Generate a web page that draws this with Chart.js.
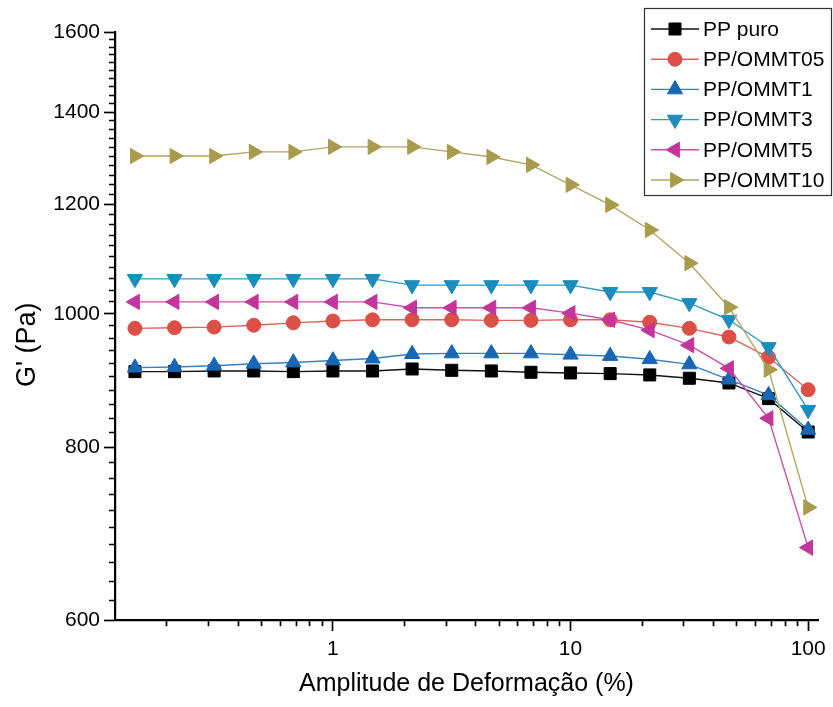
<!DOCTYPE html>
<html><head><meta charset="utf-8">
<script src="https://cdn.jsdelivr.net/npm/chart.js@4.4.1/dist/chart.umd.min.js"></script>
<style>html,body{margin:0;padding:0;background:#fff}#wrap{width:833px;height:707px;position:relative}</style>
</head><body><div id="wrap"><canvas id="c" width="833" height="707"></canvas></div>
<script>
// ---- data ----
const strain = [0.1468,0.2154,0.3162,0.4642,0.6813,1,1.468,2.154,3.162,4.642,6.813,10,14.68,21.54,31.62,46.42,68.13,100];
const ppPuro   = [908,908,909,909,908,909,909,912,910,909,907,906,905,903,898,891,868,821];
const ommt05   = [976,977,978,981,985,988,990,990,990,989,989,990,990,986,976,962,930,881];
const ommt1    = [914,915,917,920,922,925,928,935,936,936,936,934,932,927,919,896,873,824];
const ommt3    = [1060,1060,1060,1060,1060,1060,1060,1049,1049,1049,1049,1049,1037,1037,1018,990,946,852];
const ommt5    = [1020,1020,1020,1020,1020,1020,1020,1010,1010,1010,1010,1001,990,973,949,913,840,677];
const ommt10   = [1301,1301,1301,1310,1310,1321,1321,1321,1310,1299,1282,1240,1199,1150,1088,1011,911,724];
const seriesNames = ['PP puro','PP/OMMT05','PP/OMMT1','PP/OMMT3','PP/OMMT5','PP/OMMT10'];
const yMajorTicks = [600,800,1000,1200,1400,1600];
const xMajorTicks = [1,10,100];
const xMinorTicks = [0.2,0.3,0.4,0.5,0.6,0.7,0.8,0.9,2,3,4,5,6,7,8,9,20,30,40,50,60,70,80,90];
const yMinorStep = 20;
const xTitle = 'Amplitude de Deformação (%)';
const yTitle = "G' (Pa)";

// ---- styles ----
const FONT = "'Liberation Sans', Arial, sans-serif";
const styles = [
  {mk:'#000000', ln:'#111111', ps:'rect',     rot:0,   r:8.5},
  {mk:'#dc4f46', ln:'#e0645c', ps:'circle',   rot:0,   r:7},
  {mk:'#1767b4', ln:'#3a80c2', ps:'triangle', rot:0,   r:8.8},
  {mk:'#1a8cbd', ln:'#2e9bc6', ps:'triangle', rot:180, r:8.8},
  {mk:'#c3359b', ln:'#cc4ea6', ps:'triangle', rot:-90, r:8.8},
  {mk:'#a99b4c', ln:'#b3a563', ps:'triangle', rot:90,  r:8.8}
];
const allSeries = [ppPuro, ommt05, ommt1, ommt3, ommt5, ommt10];

const datasets = allSeries.map((vals, i) => ({
  label: seriesNames[i],
  data: strain.map((x, j) => ({x: x, y: vals[j]})),
  borderColor: styles[i].ln,
  borderWidth: 1.4,
  pointStyle: styles[i].ps,
  pointRotation: styles[i].rot,
  pointRadius: styles[i].r,
  pointHoverRadius: styles[i].r,
  pointBackgroundColor: styles[i].mk,
  pointBorderColor: styles[i].mk,
  pointBorderWidth: 1,
  tension: 0,
  fill: false,
  clip: false,
  order: allSeries.length - i
}));

const boxLegend = {
  id: 'boxLegend',
  afterDraw(chart) {
    const ctx = chart.ctx;
    const bx = 644, by = 8, bw = 187, bh = 187;
    ctx.save();
    ctx.fillStyle = '#ffffff';
    ctx.fillRect(bx, by, bw, bh);
    ctx.strokeStyle = '#333333';
    ctx.lineWidth = 1.2;
    ctx.strokeRect(bx + 0.5, by + 0.5, bw, bh);
    chart.data.datasets.forEach((ds, i) => {
      const cy = by + 21 + i * 30.2;
      ctx.strokeStyle = ds.borderColor;
      ctx.lineWidth = 1.4;
      ctx.beginPath();
      ctx.moveTo(bx + 7, cy);
      ctx.lineTo(bx + 55, cy);
      ctx.stroke();
      ctx.fillStyle = ds.pointBackgroundColor;
      ctx.strokeStyle = ds.pointBorderColor;
      ctx.lineWidth = 1;
      Chart.helpers.drawPoint(ctx, {pointStyle: ds.pointStyle, rotation: ds.pointRotation, radius: ds.pointRadius, borderWidth: 1}, bx + 31, cy);
      ctx.fillStyle = '#000000';
      ctx.font = '21px ' + FONT;
      ctx.textBaseline = 'middle';
      ctx.textAlign = 'left';
      ctx.fillText(ds.label, bx + 59, cy + 1);
    });
    ctx.restore();
  }
};

new Chart(document.getElementById('c'), {
  type: 'line',
  data: {datasets},
  plugins: [boxLegend],
  options: {
    responsive: false,
    animation: false,
    devicePixelRatio: 1,
    layout: {padding: {top: 32, right: 15, left: 0, bottom: 0}},
    plugins: {legend: {display: false}, tooltip: {enabled: false}},
    scales: {
      x: {
        type: 'logarithmic',
        position: 'bottom',
        min: 0.121, max: 110,
        border: {display: true, color: '#000', width: 2.2},
        grid: {
          drawOnChartArea: false, drawTicks: true, tickLength: 11,
          tickColor: '#000', tickWidth: 1.7,
          tickBorderDash: (c) => (c.tick && c.tick.major) ? [] : [5, 100]
        },
        afterBuildTicks: (s) => {
          const vals = xMinorTicks.concat(xMajorTicks).sort((a, b) => a - b);
          s.ticks = vals.map(v => ({value: v, major: xMajorTicks.includes(v)}));
        },
        ticks: {
          autoSkip: false, maxRotation: 0, minRotation: 0, padding: 6,
          color: '#000', font: {family: FONT, size: 21},
          callback: (v) => xMajorTicks.includes(v) ? String(v) : ''
        },
        title: {display: true, text: xTitle, color: '#000', font: {family: FONT, size: 25}, padding: {top: 0, bottom: 8}},
        afterFit: (s) => { s.height = 87; s.paddingLeft = 0; s.paddingRight = 0; }
      },
      y: {
        type: 'logarithmic',
        position: 'left',
        min: 600, max: 1600,
        border: {display: true, color: '#000', width: 2.2},
        grid: {
          drawOnChartArea: false, drawTicks: true, tickLength: 11,
          tickColor: '#000', tickWidth: 1.7,
          tickBorderDash: (c) => (c.tick && c.tick.major) ? [] : [0, 5, 6, 100]
        },
        afterBuildTicks: (s) => {
          const arr = [];
          for (let v = yMajorTicks[0]; v <= yMajorTicks[yMajorTicks.length - 1]; v += yMinorStep) {
            arr.push({value: v, major: yMajorTicks.includes(v)});
          }
          s.ticks = arr;
        },
        ticks: {
          autoSkip: false, padding: 4,
          color: '#000', font: {family: FONT, size: 21},
          callback: (v) => yMajorTicks.includes(v) ? String(v) : ''
        },
        title: {display: true, text: yTitle + '     ', color: '#000', font: {family: FONT, size: 27}, padding: {top: 11, bottom: 0}},
        afterFit: (s) => { s.width = 115; s.paddingTop = 0; s.paddingBottom = 0; }
      }
    }
  }
});
</script>
</body></html>
